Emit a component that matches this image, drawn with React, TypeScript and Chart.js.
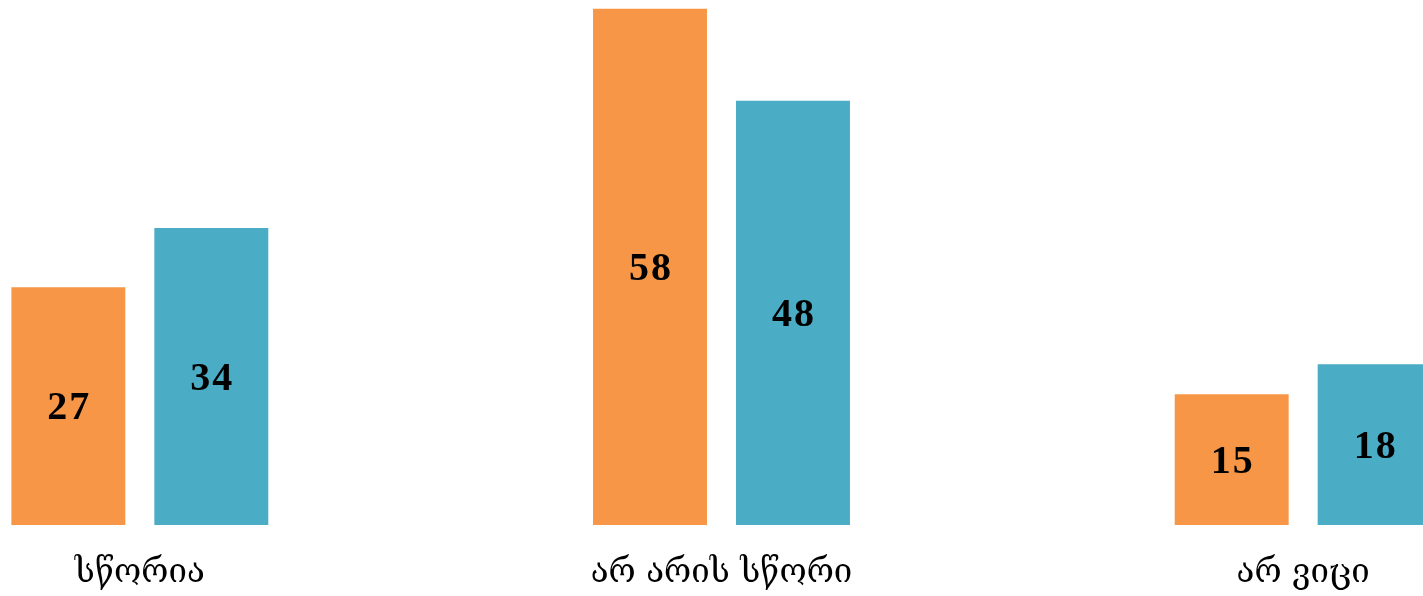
import React, { useEffect, useRef } from "react";
import { Chart, registerables } from "chart.js";

Chart.register(...registerables);

const categories = ["სწორია", "არ არის სწორი", "არ ვიცი"];
const seriesA = [26.9, 58.4, 14.8];
const seriesB = [33.6, 48.0, 18.2];
const colorA = "#F79646";
const colorB = "#4BACC6";

const valueLabels = {
  id: "valueLabels",
  afterDatasetsDraw(chart: any) {
    const ctx = chart.ctx;
    ctx.save();
    ctx.font = "bold 40px 'Liberation Serif'";
    (ctx as any).letterSpacing = "2px";
    ctx.fillStyle = "#000";
    ctx.textAlign = "center";
    ctx.textBaseline = "middle";
    chart.data.datasets.forEach((ds: any, di: number) => {
      const meta = chart.getDatasetMeta(di);
      meta.data.forEach((el: any, i: number) => {
        const v = ds.data[i];
        const y = (el.y + el.base) / 2 + 3;
        ctx.fillText(String(Math.round(v)), el.x + 1, y);
      });
    });
    ctx.restore();
  },
};

export default function App() {
  const ref = useRef<HTMLCanvasElement>(null);
  useEffect(() => {
    const chart = new Chart(ref.current!, {
      type: "bar",
      data: {
        labels: categories,
        datasets: [
          { data: seriesA, backgroundColor: colorA, categoryPercentage: 0.4916, barPercentage: 0.797 },
          { data: seriesB, backgroundColor: colorB, categoryPercentage: 0.4916, barPercentage: 0.797 },
        ],
      },
      options: {
        animation: false,
        responsive: true,
        maintainAspectRatio: false,
        layout: { padding: 0 },
        plugins: { legend: { display: false }, tooltip: { enabled: false } },
        scales: {
          y: { display: false, min: 0, max: 59.4 },
          x: {
            grid: { display: false, drawTicks: false },
            border: { display: false },
            ticks: {
              color: "#000",
              padding: 29,
              font: { family: "'DejaVu Serif'", size: 33 },
            },
            afterFit: (scale: any) => {
              scale.height = 71;
            },
          },
        },
      },
      plugins: [valueLabels],
    });
    return () => chart.destroy();
  }, []);
  return (
    <div style={{ position: "fixed", left: 0, top: 0, width: 1423, height: 596, overflow: "hidden", background: "#fff" }}>
      <div style={{ position: "absolute", left: -151, top: 0, width: 1745, height: 596 }}>
        <canvas ref={ref} />
      </div>
    </div>
  );
}
